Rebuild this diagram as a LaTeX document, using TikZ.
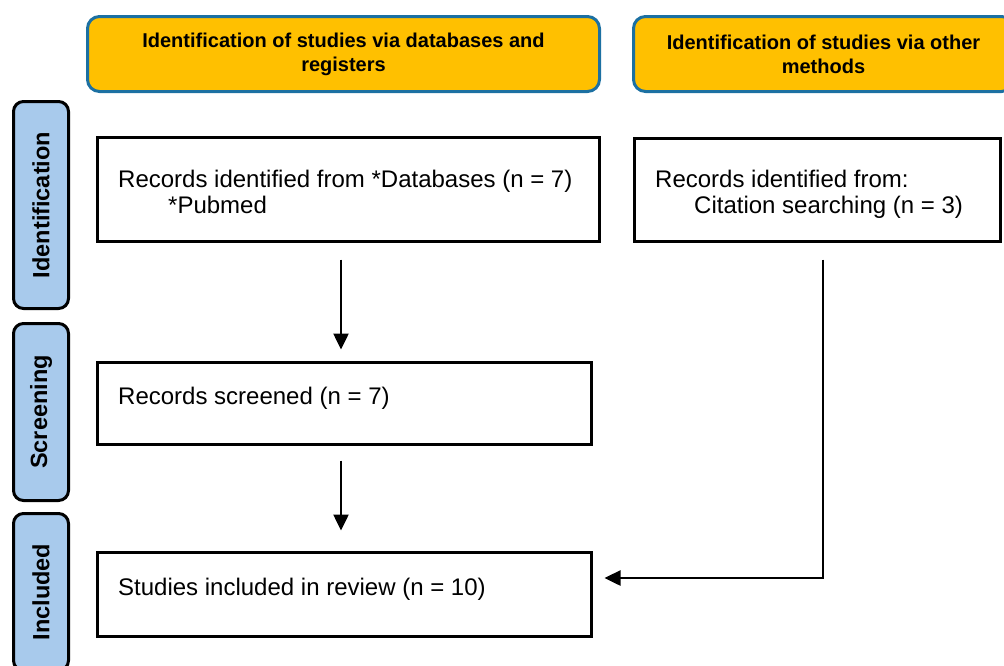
\documentclass[tikz,border=0pt]{standalone}
\usepackage{fontspec}
\setmainfont{Liberation Sans}
\usetikzlibrary{arrows.meta}
\definecolor{headfill}{RGB}{255,192,0}
\definecolor{headdraw}{RGB}{28,112,162}
\definecolor{phasefill}{RGB}{168,202,236}

\begin{document}
\begin{tikzpicture}[x=1pt,y=-1pt]
        \tikzstyle{heading}=[rectangle,rounded corners=12pt,line width=3pt,draw=headdraw,fill=headfill,minimum height=75pt,align=center,inner sep=0pt,font=\bfseries\fontsize{20}{24}\selectfont]
        \tikzstyle{phase}=[rectangle,rounded corners=10pt,line width=3pt,draw=black,fill=phasefill,minimum height=55pt,inner sep=0pt,rotate=90,font=\bfseries\fontsize{23.5}{26}\selectfont]
        \tikzstyle{record}=[rectangle,line width=3pt,draw=black,inner sep=0pt]
        \tikzstyle{entry}=[anchor=base west,inner sep=0pt,font=\fontsize{24}{26}\selectfont]
        \tikzstyle{edge}=[draw,line width=2.5pt,-{Triangle[length=16pt,width=15pt]}]
       \path[use as bounding box,clip] (0,0) rectangle (1004,665);
       \begin{scope}
         % headings
         \node [heading,minimum width=512pt] (hdb) at (343.5,54) {Identification of studies via databases and\\registers};
         \node [heading,minimum width=380pt] (hother) at (823.5,54) {Identification of studies via other\\methods};
         % phases
         \node [phase,minimum width=207pt] (pident) at (41,205) {Identification};
         \node [phase,minimum width=177pt] (pscreen) at (41,412) {Screening};
         \node [phase,minimum width=157pt] (pincl) at (41,592) {Included};
         % boxes
         \node [record,minimum width=502pt,minimum height=104pt] (db) at (348.5,189.5) {};
         \node [record,minimum width=366pt,minimum height=103pt] (cite) at (817.5,190) {};
         \node [record,minimum width=494pt,minimum height=82pt] (scr) at (344.5,403.5) {};
         \node [record,minimum width=494pt,minimum height=84pt] (incl) at (344.5,594.5) {};
         % texts
         \node [entry] (dbtext) at (118,187) {Records identified from *Databases (n = 7)};
         \node [entry] (dbsub) at (168,213) {*Pubmed};
         \node [entry] (citetext) at (655,187) {Records identified from:};
         \node [entry] (citesub) at (694,213) {Citation searching (n = 3)};
         \node [entry] (scrtext) at (118,404) {Records screened (n = 7)};
         \node [entry] (incltext) at (118,595) {Studies included in review (n = 10)};
         % arrows
         \coordinate (down1) at ([xshift=-3.5pt]scr.north);
         \coordinate (down2) at ([xshift=-3.5pt]incl.north);
         \coordinate (turn) at ([xshift=5.5pt]cite.south);
         \coordinate (into) at ([yshift=16.5pt]incl.east);
         \path[edge,shorten <=16.5pt,shorten >=11.5pt] (down1 |- db.south) -- (down1);
         \path[edge,shorten <=14.5pt,shorten >=20.5pt] (down2 |- scr.south) -- (down2);
         \path[edge,shorten <=16.5pt,shorten >=11.5pt] (turn) |- (into);
        \end{scope}
      \end{tikzpicture}
\end{document}
